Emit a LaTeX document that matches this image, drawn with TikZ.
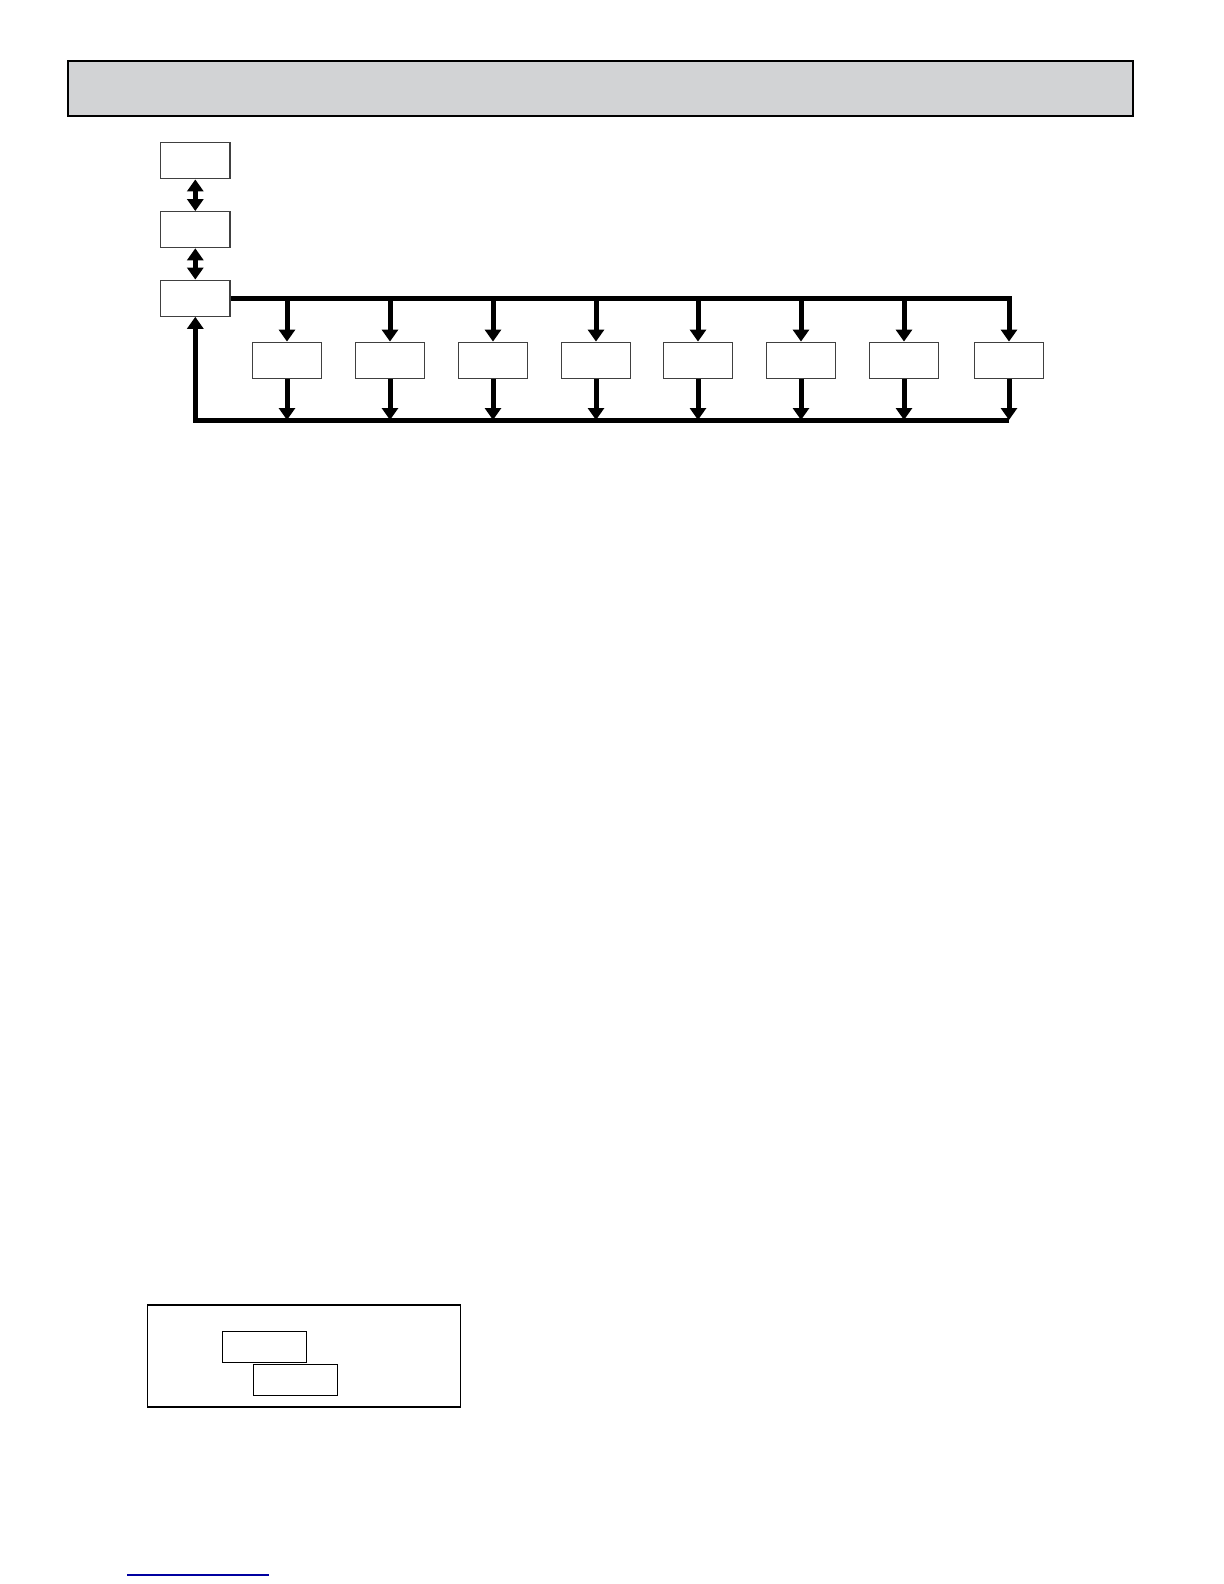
\documentclass[tikz,border=0pt]{standalone}
\usepackage{tikz}
\usetikzlibrary{arrows.meta}
\usetikzlibrary{positioning}

\definecolor{hdrgray}{RGB}{210,211,213}
\definecolor{linkblue}{RGB}{0,0,160}

\begin{document}
\begin{tikzpicture}[x=0.5pt, y=-0.5pt,
    menubox/.style={draw=black!75, line width=0.6pt, fill=white, inner sep=0pt,
      minimum width=34.6pt, minimum height=18pt},
    flow/.style={line width=2.5pt, -{Triangle[width=8pt,length=6pt]}},
    both/.style={line width=2.5pt, {Triangle[width=8pt,length=6pt]}-{Triangle[width=8pt,length=6pt]}}]
        \useasboundingbox (0, 0) rectangle (1224, 1584);
        \node[draw, line width=1pt, fill=hdrgray, minimum width=532.5pt, minimum height=27.5pt] (hdr) at (600.5, 88.3) {};
        \node[menubox] (m1) at (195.3, 160.8) {};
        \node[menubox] (m2) at (195.3, 229.7) {};
        \node[menubox] (m3) at (195.3, 298.2) {};
        \draw[both] (m1) -- (m2);
        \draw[both] (m2) -- (m3);
        \foreach \x [count=\i] in {287, 390, 493, 596, 698, 801, 904, 1009}
          \node[menubox] (p\i) at (\x, 360.2) {};
        \coordinate (rb) at (0, 420);
        \draw[flow] (m3.east) -| (p8.north);
        \foreach \i in {1, ..., 7}
          \draw[flow] (m3.east -| p\i) -- (p\i.north);
        \foreach \i in {1, ..., 8}
          \draw[flow] (p\i.south) -- (p\i.south |- rb);
        \draw[flow] (p8.south |- rb) -| (m3.south);
        \draw[line width=0.7pt] (147.3, 1305) rectangle (460.3, 1407);
        \node[draw, line width=0.7pt, inner sep=0pt, minimum width=42pt, minimum height=15.5pt] (s1) at (264.3, 1346.8) {};
        \node[draw, line width=0.7pt, inner sep=0pt, minimum width=42pt, minimum height=15.5pt] (s2) at (295.3, 1379.8) {};
        \draw[linkblue, line width=0.7pt] (127, 1575) -- (269, 1575);
      \end{tikzpicture}
\end{document}
